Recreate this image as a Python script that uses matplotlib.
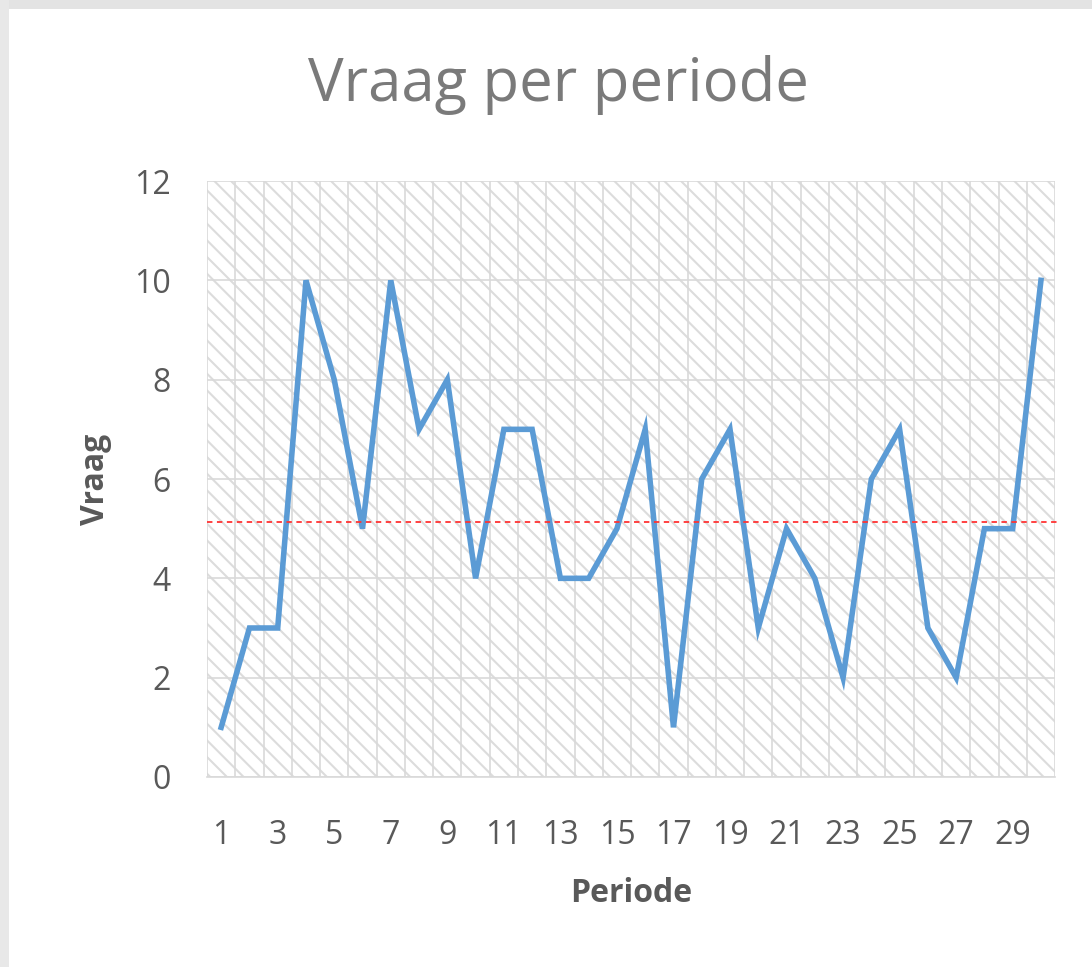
import numpy as np
import matplotlib
matplotlib.use("Agg")
import matplotlib.pyplot as plt
from matplotlib.patches import Rectangle

plt.rcParams['font.family'] = ['Open Sans', 'DejaVu Sans']
plt.rcParams['hatch.color'] = '#dcdcdc'
plt.rcParams['hatch.linewidth'] = 1.5

# data
periode = np.arange(1, 31)
vraag = [1, 3, 3, 10, 8, 5, 10, 7, 8, 4,
         7, 7, 4, 4, 5, 7, 1, 6, 7, 3,
         5, 4, 2, 6, 7, 3, 2, 5, 5, 10]
ref_lijn = 5.13
x_labels = [str(p) for p in periode if p % 2 == 1]

fig = plt.figure(figsize=(10.92, 9.67), dpi=100)
ax = fig.add_axes([0.1896, 0.1965, 0.7766, 0.6163])

# screenshot frame (top and left edge only)
fig.patches.append(Rectangle((0, 0.991), 1, 0.009, transform=fig.transFigure,
                             facecolor='#e3e3e3', edgecolor='none', zorder=-1))
fig.patches.append(Rectangle((0, 0), 0.008, 1, transform=fig.transFigure,
                             facecolor='#e8e8e8', edgecolor='none', zorder=-1))

# hatched plot area
ax.set_facecolor('white')
ax.add_patch(Rectangle((0, 0), 1, 1, transform=ax.transAxes, facecolor='white',
                       hatch='\\\\', edgecolor='#dcdcdc', linewidth=0, zorder=0))

ax.set_xlim(0.5, 30.5)
ax.set_ylim(0, 12)
ax.set_xticks(np.arange(0.5, 31, 1), minor=True)
ax.set_xticks([p for p in periode if p % 2 == 1])
ax.set_xticklabels(x_labels)
ax.set_yticks(range(0, 13, 2))

ax.grid(True, axis='y', color='#d9d9d9', linewidth=1.2, zorder=1)
ax.grid(True, axis='x', which='minor', color='#d9d9d9', linewidth=1.2, zorder=1)
ax.grid(False, axis='x', which='major')
for s in ['top', 'right', 'left']:
    ax.spines[s].set_visible(False)
ax.spines['bottom'].set_color('#d9d9d9')
ax.spines['bottom'].set_linewidth(1.2)
ax.tick_params(which='both', length=0, labelsize=23, colors='#595959')
ax.tick_params(axis='x', pad=30)
ax.tick_params(axis='y', pad=26)

ax.plot(periode, vraag, color='#5b9bd5', linewidth=4, solid_joinstyle='miter', zorder=3)
ax.plot([0.5, 30.7], [ref_lijn, ref_lijn], color='#ff3333', linewidth=1.3,
        linestyle=(0, (3, 2.5)), clip_on=False, zorder=4)

ax.set_xlabel('Periode', fontsize=23, fontweight='bold', color='#595959', labelpad=18)
ax.set_ylabel('Vraag', fontsize=23, fontweight='bold', color='#595959', labelpad=16)
fig.text(0.511, 0.912, 'Vraag per periode', fontsize=43, color='#7a7a7a',
         ha='center', va='center')

fig.savefig('out.png', dpi=100)
